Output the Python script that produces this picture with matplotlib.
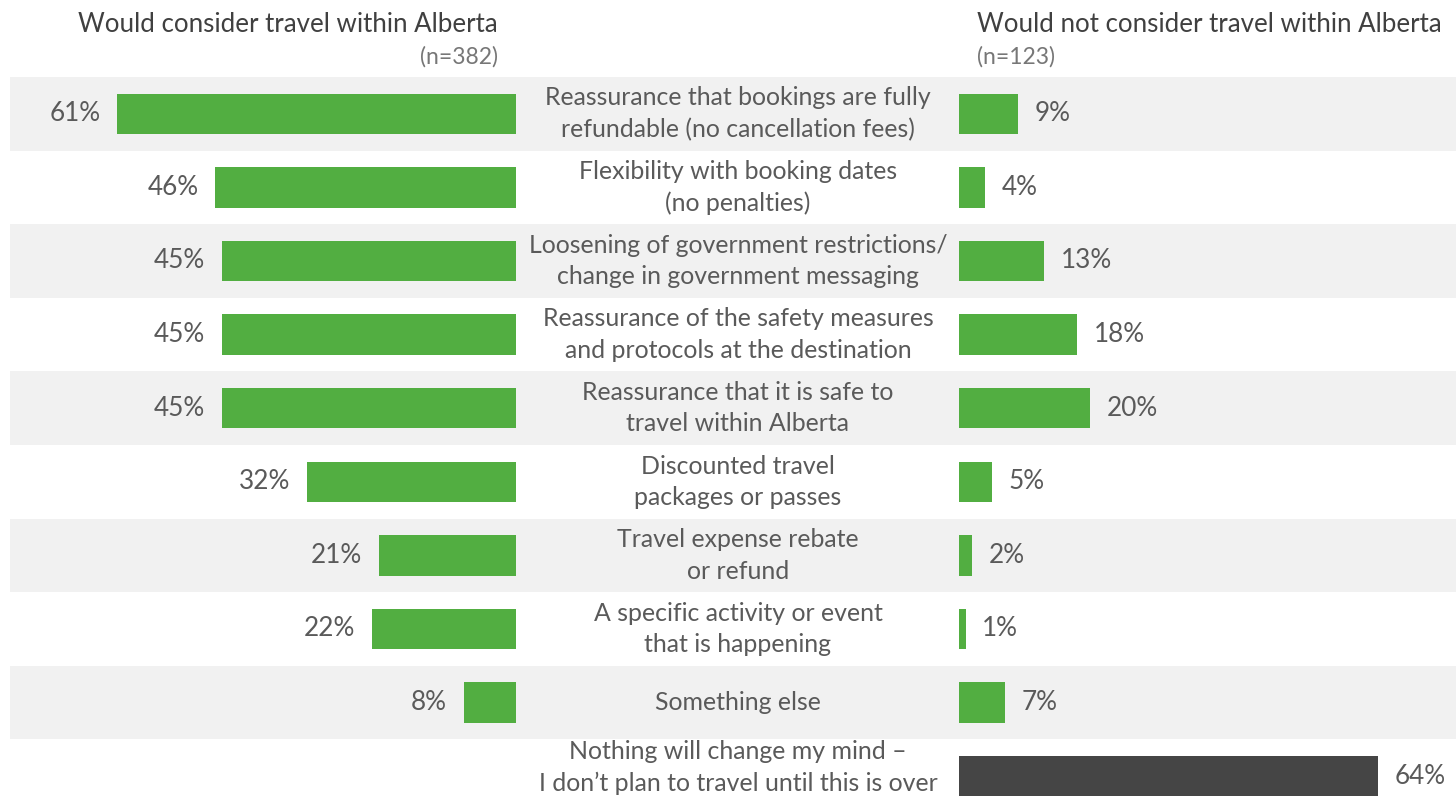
import matplotlib
import matplotlib.pyplot as plt
matplotlib.use('Agg')

# data
reasons = [
    'Reassurance that bookings are fully\nrefundable (no cancellation fees)',
    'Flexibility with booking dates\n(no penalties)',
    'Loosening of government restrictions/\nchange in government messaging',
    'Reassurance of the safety measures\nand protocols at the destination',
    'Reassurance that it is safe to\ntravel within Alberta',
    'Discounted travel\npackages or passes',
    'Travel expense rebate\nor refund',
    'A specific activity or event\nthat is happening',
    'Something else',
    'Nothing will change my mind \u2013\nI don\u2019t plan to travel until this is over',
]
would_consider = [61, 46, 45, 45, 45, 32, 21, 22, 8, None]
would_not_consider = [9, 4, 13, 18, 20, 5, 2, 1, 7, 64]

left_title = 'Would consider travel within Alberta'
left_n = '(n=382)'
right_title = 'Would not consider travel within Alberta'
right_n = '(n=123)'

GREEN = '#52ae41'
DARK = '#454545'
BAND = '#f1f1f1'
TXT = '#5a5a5a'
TITLE = '#404040'

plt.rcParams['font.family'] = ['Lato', 'DejaVu Sans']

W, H = 1456, 800
fig = plt.figure(figsize=(W / 100, H / 100), dpi=100)

rows = list(range(len(reasons)))
top_px, row_px = 77, 73.6
bottom_px = top_px + row_px * len(rows)
ax_b = (H - bottom_px) / H
ax_h = (bottom_px - top_px) / H
px_per_pct = 6.54


def new_ax(x0, x1):
    ax = fig.add_axes([x0 / W, ax_b, (x1 - x0) / W, ax_h])
    ax.set_ylim(len(rows) - 0.5, -0.5)
    ax.set_xlim(0, (x1 - x0) / px_per_pct)
    ax.axis('off')
    ax.patch.set_alpha(0)
    return ax


# background bands + centre labels
bg = fig.add_axes([10 / W, ax_b, (W - 10) / W, ax_h])
bg.set_xlim(0, 1)
bg.set_ylim(len(rows) - 0.5, -0.5)
bg.axis('off')
for i in rows:
    if i % 2 == 0:
        bg.axhspan(i - 0.5, i + 0.5, color=BAND, lw=0)
    # last label sits a little higher so it stays inside the picture
    y = i - 0.12 if i == len(rows) - 1 else i
    bg.text((738 - 10) / (W - 10), y, reasons[i], ha='center', va='center',
            fontsize=17.9, color=TXT, linespacing=1.45)

# left side
axl = new_ax(10, 516)
axl.invert_xaxis()
for i, v in enumerate(would_consider):
    if v is None:
        continue
    axl.barh(i, v, height=0.55, color=GREEN)
    axl.annotate(f'{v}%', (v, i), xytext=(-12, 0), textcoords='offset points',
                 ha='right', va='center', fontsize=18.8, color=TXT)

# right side
axr = new_ax(959, W)
for i, v in enumerate(would_not_consider):
    c = DARK if i == len(rows) - 1 else GREEN
    axr.barh(i, v, height=0.55, color=c)
    axr.annotate(f'{v}%', (v, i), xytext=(12, 0), textcoords='offset points',
                 ha='left', va='center', fontsize=18.8, color=TXT)

# headers
fig.text(498 / W, 1 - 24 / H, left_title, ha='right', va='center',
         fontsize=18.6, color=TITLE)
fig.text(498 / W, 1 - 57 / H, left_n, ha='right', va='center',
         fontsize=16.5, color='#777777')
fig.text(977 / W, 1 - 24 / H, right_title, ha='left', va='center',
         fontsize=18.6, color=TITLE)
fig.text(977 / W, 1 - 57 / H, right_n, ha='left', va='center',
         fontsize=16.5, color='#777777')

fig.savefig('out.png', dpi=100)
